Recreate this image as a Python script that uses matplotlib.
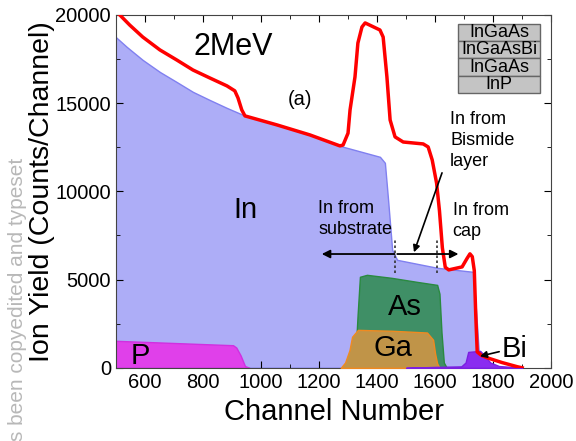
import numpy as np
import matplotlib.pyplot as plt
from matplotlib.ticker import MultipleLocator

plt.rcParams['font.family'] = ['Liberation Sans', 'DejaVu Sans']

# total spectrum (red)
tot_ch = [514, 548, 593, 652, 710, 766, 824, 883, 910, 921, 934, 945, 1055, 1169, 1272, 1283,
          1300, 1307, 1324, 1334, 1348, 1359, 1410, 1421, 1434, 1445, 1462, 1490, 1559, 1576,
          1590, 1605, 1615, 1625, 1635, 1647, 1693, 1710, 1720, 1728, 1735, 1740, 1745, 1760,
          1779, 1830, 1883, 1900]
tot_cnt = [20000, 19430, 18750, 18020, 17450, 16880, 16430, 15980, 15700, 15300, 14620, 14280,
           13770, 13200, 12580, 12630, 13300, 14620, 16490, 18410, 19320, 19550, 19150, 18750,
           16490, 14050, 13090, 12800, 12690, 12520, 11780, 10480, 8900, 6800, 5700, 5550, 5720,
           6200, 6460, 6300, 5500, 3000, 900, 700, 570, 300, 60, 0]

# In (blue)
in_ch = [500, 538, 593, 652, 710, 766, 824, 883, 938, 1055, 1169, 1272, 1410, 1427, 1438, 1452,
         1469, 1607, 1731, 1742, 1752, 1760]
in_cnt = [18750, 18190, 17450, 16770, 16200, 15640, 15180, 14730, 14340, 13770, 13200, 12580,
          11960, 11620, 9520, 6690, 6120, 5670, 5440, 3000, 500, 0]

# P (magenta)
p_ch = [500, 904, 915, 930, 945, 960]
p_cnt = [1530, 1280, 1150, 700, 100, 0]

# As (green)
as_ch = [1315, 1325, 1333, 1341, 1365, 1450, 1538, 1607, 1615, 1622, 1630, 1640]
as_cnt = [0, 500, 3000, 5160, 5270, 5100, 4870, 4700, 4200, 2000, 300, 0]

# Ga (orange)
ga_ch = [1275, 1290, 1305, 1314, 1334, 1450, 1572, 1593, 1600, 1607, 1615]
ga_cnt = [0, 300, 1000, 1760, 2150, 2100, 2000, 1590, 800, 250, 0]

# Bi (purple)
bi_ch = [1500, 1600, 1690, 1705, 1714, 1755, 1770, 1790, 1820, 1880, 1900]
bi_cnt = [0, 50, 80, 300, 900, 960, 700, 300, 100, 30, 0]

layers = ["InGaAs", "InGaAsBi", "InGaAs", "InP"]

fig = plt.figure(figsize=(5.76, 4.41), dpi=100)
ax = fig.add_axes([0.201, 0.166, 0.756, 0.800])

ax.fill_between(in_ch, in_cnt, color="#adadf7", edgecolor="#8080f0", lw=1, zorder=1)
ax.fill_between(p_ch, p_cnt, color="#e040ea", edgecolor="#d030e0", lw=1, zorder=2)
ax.fill_between(as_ch, as_cnt, color="#3f8f66", edgecolor="#2a8a40", lw=1, zorder=2)
ax.fill_between(ga_ch, ga_cnt, color="#c09448", edgecolor="#f08a20", lw=1, zorder=3)
ax.fill_between(bi_ch, bi_cnt, color="#8a2cf0", edgecolor="#7a20e0", lw=1, zorder=3)
ax.plot(tot_ch, tot_cnt, color="red", lw=2.5, solid_joinstyle="round", zorder=4)

ax.set_xlim(500, 2000)
ax.set_ylim(0, 20000)
ax.xaxis.set_major_locator(MultipleLocator(200))
ax.xaxis.set_minor_locator(MultipleLocator(100))
ax.yaxis.set_major_locator(MultipleLocator(5000))
ax.yaxis.set_minor_locator(MultipleLocator(2500))
ax.tick_params(which="both", direction="in", top=True, right=True, labelsize=14.5)
ax.tick_params(which="major", length=5)
ax.tick_params(which="minor", length=3)
for s in ax.spines.values():
    s.set_color("#444444")

ax.set_xlabel("Channel Number", fontsize=21)
ax.set_ylabel("Ion Yield (Counts/Channel)", fontsize=20.5)
ax.xaxis.set_label_coords(0.5, -0.085)
ax.yaxis.set_label_coords(-0.14, 0.5)

# labels
ax.text(903, 18190, "2MeV", fontsize=22, ha="center", va="center")
ax.text(1135, 15200, "(a)", fontsize=14.5, ha="center", va="center")
ax.text(948, 8950, "In", fontsize=21, ha="center", va="center")
ax.text(1497, 3450, "As", fontsize=21, ha="center", va="center")
ax.text(1455, 1130, "Ga", fontsize=21, ha="center", va="center")
ax.text(583, 680, "P", fontsize=21, ha="center", va="center")
ax.text(1828, 1080, "Bi", fontsize=21, ha="left", va="center")
ax.text(1197, 9500, "In from\nsubstrate", fontsize=13, linespacing=1.3, va="top")
ax.text(1652, 14550, "In from\nBismide\nlayer", fontsize=13, linespacing=1.3, va="top")
ax.text(1660, 9400, "In from\ncap", fontsize=13, linespacing=1.3, va="top")

ax.annotate("", xy=(1200, 6450), xytext=(1470, 6450),
            arrowprops=dict(arrowstyle="-|>", color="black", lw=1.3, mutation_scale=12), zorder=5)
ax.annotate("", xy=(1690, 6450), xytext=(1460, 6450),
            arrowprops=dict(arrowstyle="-|>", color="black", lw=1.3, mutation_scale=12), zorder=5)
ax.annotate("", xy=(1524, 6400), xytext=(1627, 11200),
            arrowprops=dict(arrowstyle="-|>", color="black", lw=1.2, mutation_scale=10), zorder=5)
ax.annotate("", xy=(1745, 620), xytext=(1830, 950),
            arrowprops=dict(arrowstyle="-|>", color="black", lw=1.2, mutation_scale=10), zorder=5)
for xv in [1462, 1607]:
    ax.plot([xv, xv], [5400, 7300], color="#333333", lw=1.2, ls=(0, (1.5, 1.5)), zorder=5)

tb = ax.table(cellText=[[l] for l in layers], cellLoc="center",
              bbox=[0.786, 0.779, 0.189, 0.196], zorder=6)
tb.auto_set_font_size(False)
for (r, c), cell in tb.get_celld().items():
    cell.set_facecolor("#c4c4c4")
    cell.set_edgecolor("#666666")
    cell.get_text().set_fontsize(13)

fig.text(0.03, 0.0, "s been copyedited and typeset", rotation=90, fontsize=15,
         color="#b8b8b8", ha="center", va="bottom", zorder=0)

fig.savefig("out.png", dpi=100)
